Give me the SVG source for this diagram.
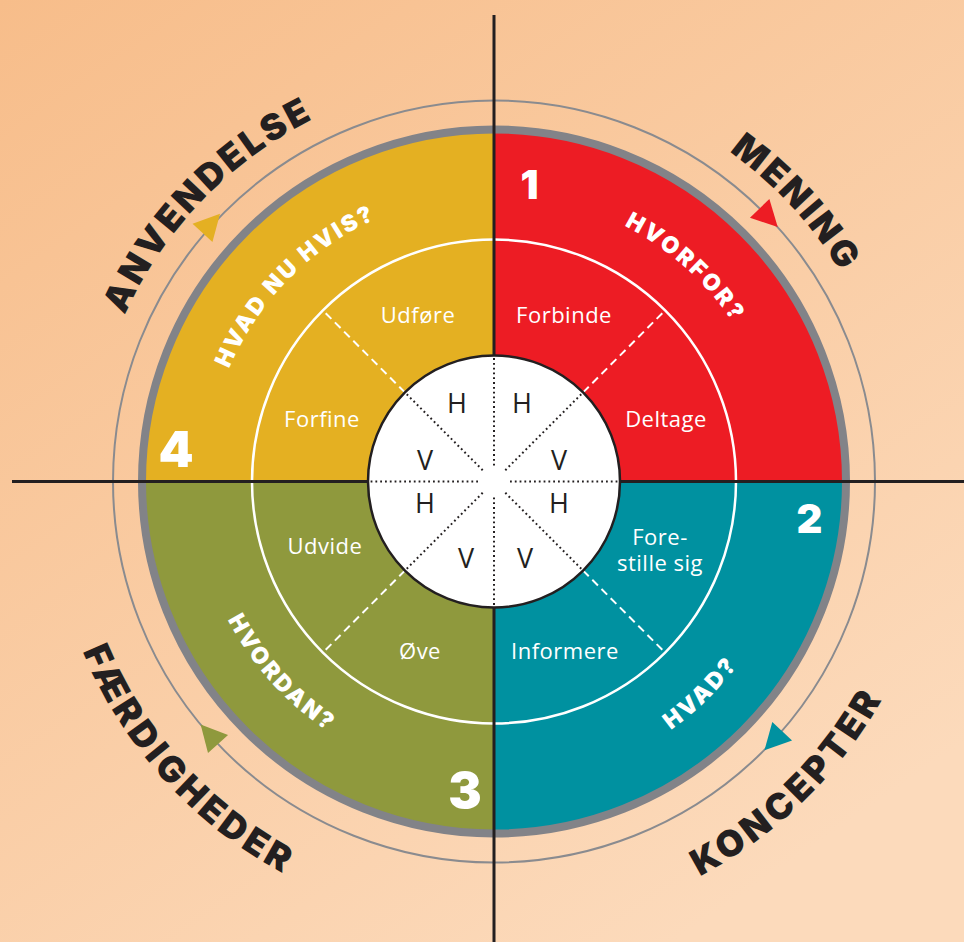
<svg xmlns="http://www.w3.org/2000/svg" xmlns:xlink="http://www.w3.org/1999/xlink" width="964" height="942" viewBox="0 0 964 942">
<style>
.outer{font-family:"Inter","Lato","DejaVu Sans",sans-serif;font-weight:900;font-size:36px;fill:#231f20;letter-spacing:3px}
.wide{letter-spacing:4px}
.quest{font-family:"Inter","Lato","DejaVu Sans",sans-serif;font-weight:900;font-size:23px;fill:#fff;letter-spacing:2.5px}
.num{font-family:"Inter","Lato","DejaVu Sans",sans-serif;font-weight:900;fill:#fff;text-anchor:middle}
.lbl{font-family:"Open Sans","Noto Sans",sans-serif;font-size:22px;fill:#fff;text-anchor:middle;letter-spacing:0.5px}
.hv{font-family:"Open Sans","Noto Sans",sans-serif;font-size:27px;fill:#231f20;text-anchor:middle}
.dash{stroke:#fff;stroke-width:2;stroke-dasharray:8 5;fill:none}
.dot{stroke:#231f20;stroke-width:2;stroke-dasharray:1.8 3;fill:none}
.axis{stroke:#231f20;stroke-width:3}
</style>
<defs>
<linearGradient id="bg" x1="0" y1="0" x2="0.7" y2="1">
<stop offset="0" stop-color="#f7bd8a"/>
<stop offset="1" stop-color="#fcdabb"/>
</linearGradient>
<polygon id="tri" points="14,0 -12,-13.5 -12,13.5"/>
<path id="pMening" d="M545.5,79.8 A405,405 0 0 1 898.6,462.4"/>
<path id="pAnv" d="M90,453.25 A405,405 0 0 1 451.7,78.7"/>
<path id="pKon" d="M527.4,925.25 A445,445 0 0 0 936.8,525.7"/>
<path id="pFaer" d="M49.4,499.4 A445,445 0 0 0 434.4,922.5"/>
<path id="pHvorfor" d="M503,194.6 A287,287 0 0 1 778.07,440.57"/>
<path id="pHvadnu" d="M206.9,458.9 A288,288 0 0 1 466.4,194.8"/>
<path id="pHvordan" d="M194.2,492 A300,300 0 0 0 452.25,778.6"/>
<path id="pHvad" d="M516.87,785.64 A305,305 0 0 0 797.49,511.79"/>
</defs>
<rect width="964" height="942" fill="url(#bg)"/>

<g id="wheel">
<path id="q1" d="M494,481.5 L494,131.5 A350,350 0 0 1 844,481.5 Z" fill="#ed1c24"/>
<path id="q2" d="M494,481.5 L844,481.5 A350,350 0 0 1 494,831.5 Z" fill="#0091a0"/>
<path id="q3" d="M494,481.5 L494,831.5 A350,350 0 0 1 144,481.5 Z" fill="#8f993d"/>
<path id="q4" d="M494,481.5 L144,481.5 A350,350 0 0 1 494,131.5 Z" fill="#e4b022"/>
<circle cx="494" cy="481.5" r="352" fill="none" stroke="#828388" stroke-width="8"/>
<circle cx="494" cy="481.5" r="381" fill="none" stroke="#8a8b8f" stroke-width="2"/>
<circle cx="494" cy="481.5" r="242" fill="none" stroke="#fff" stroke-width="2.5"/>
</g>

<g id="connectors">
<line class="dash" x1="583.1" y1="392.4" x2="665.1" y2="310.4"/>
<line class="dash" x1="583.1" y1="570.6" x2="665.1" y2="652.6"/>
<line class="dash" x1="404.9" y1="570.6" x2="322.9" y2="652.6"/>
<line class="dash" x1="404.9" y1="392.4" x2="322.9" y2="310.4"/>
<line class="axis" x1="494" y1="15" x2="494" y2="942"/>
<line class="axis" x1="12" y1="481.5" x2="964" y2="481.5"/>
<use href="#tri" fill="#ed1c24" transform="translate(768,217) rotate(46)"/>
<use href="#tri" fill="#0091a0" transform="translate(774,740) rotate(133)"/>
<use href="#tri" fill="#8f993d" transform="translate(210,735) rotate(228)"/>
<use href="#tri" fill="#e4b022" transform="translate(210.6,224) rotate(-47.5)"/>
</g>

<g id="core">
<circle cx="494" cy="481.5" r="126" fill="#fff" stroke="#231f20" stroke-width="2.5"/>
<line class="dot" x1="510" y1="481.5" x2="619" y2="481.5"/>
<line class="dot" x1="478" y1="481.5" x2="369" y2="481.5"/>
<line class="dot" x1="494" y1="497.5" x2="494" y2="606.5"/>
<line class="dot" x1="494" y1="465.5" x2="494" y2="356.5"/>
<line class="dot" x1="505.3" y1="492.8" x2="582.4" y2="569.9"/>
<line class="dot" x1="482.7" y1="492.8" x2="405.6" y2="569.9"/>
<line class="dot" x1="482.7" y1="470.2" x2="405.6" y2="393.1"/>
<line class="dot" x1="505.3" y1="470.2" x2="582.4" y2="393.1"/>
<text class="hv" x="457" y="413">H</text>
<text class="hv" x="522" y="413">H</text>
<text class="hv" x="425" y="470">V</text>
<text class="hv" x="559" y="470">V</text>
<text class="hv" x="425" y="513">H</text>
<text class="hv" x="559" y="513">H</text>
<text class="hv" x="466" y="568">V</text>
<text class="hv" x="525" y="568">V</text>
</g>

<g id="node-1">
<text class="num" x="529.5" y="199" font-size="40">1</text>
<text class="quest"><textPath href="#pHvorfor" startOffset="50%" text-anchor="middle">HVORFOR?</textPath></text>
<text class="lbl" x="564" y="323">Forbinde</text>
<text class="lbl" x="666" y="427">Deltage</text>
<text class="outer"><textPath href="#pMening" startOffset="50%" text-anchor="middle">MENING</textPath></text>
</g>

<g id="node-2">
<text class="num" x="809.5" y="533" font-size="40">2</text>
<text class="quest"><textPath href="#pHvad" startOffset="50%" text-anchor="middle">HVAD?</textPath></text>
<text class="lbl" x="660" y="545">Fore-</text>
<text class="lbl" x="660" y="571">stille sig</text>
<text class="lbl" x="565" y="659">Informere</text>
<text class="outer wide"><textPath href="#pKon" startOffset="50%" text-anchor="middle">KONCEPTER</textPath></text>
</g>

<g id="node-3">
<text class="num" x="465" y="808" font-size="50">3</text>
<text class="quest"><textPath href="#pHvordan" startOffset="50%" text-anchor="middle">HVORDAN?</textPath></text>
<text class="lbl" x="325" y="554">Udvide</text>
<text class="lbl" x="420" y="659">Øve</text>
<text class="outer wide"><textPath href="#pFaer" startOffset="50%" text-anchor="middle">FÆRDIGHEDER</textPath></text>
</g>

<g id="node-4">
<text class="num" x="176" y="466.5" font-size="50">4</text>
<text class="quest"><textPath href="#pHvadnu" startOffset="50%" text-anchor="middle">HVAD NU HVIS?</textPath></text>
<text class="lbl" x="418" y="323">Udføre</text>
<text class="lbl" x="322" y="427">Forfine</text>
<text class="outer"><textPath href="#pAnv" startOffset="50%" text-anchor="middle">ANVENDELSE</textPath></text>
</g>
</svg>
